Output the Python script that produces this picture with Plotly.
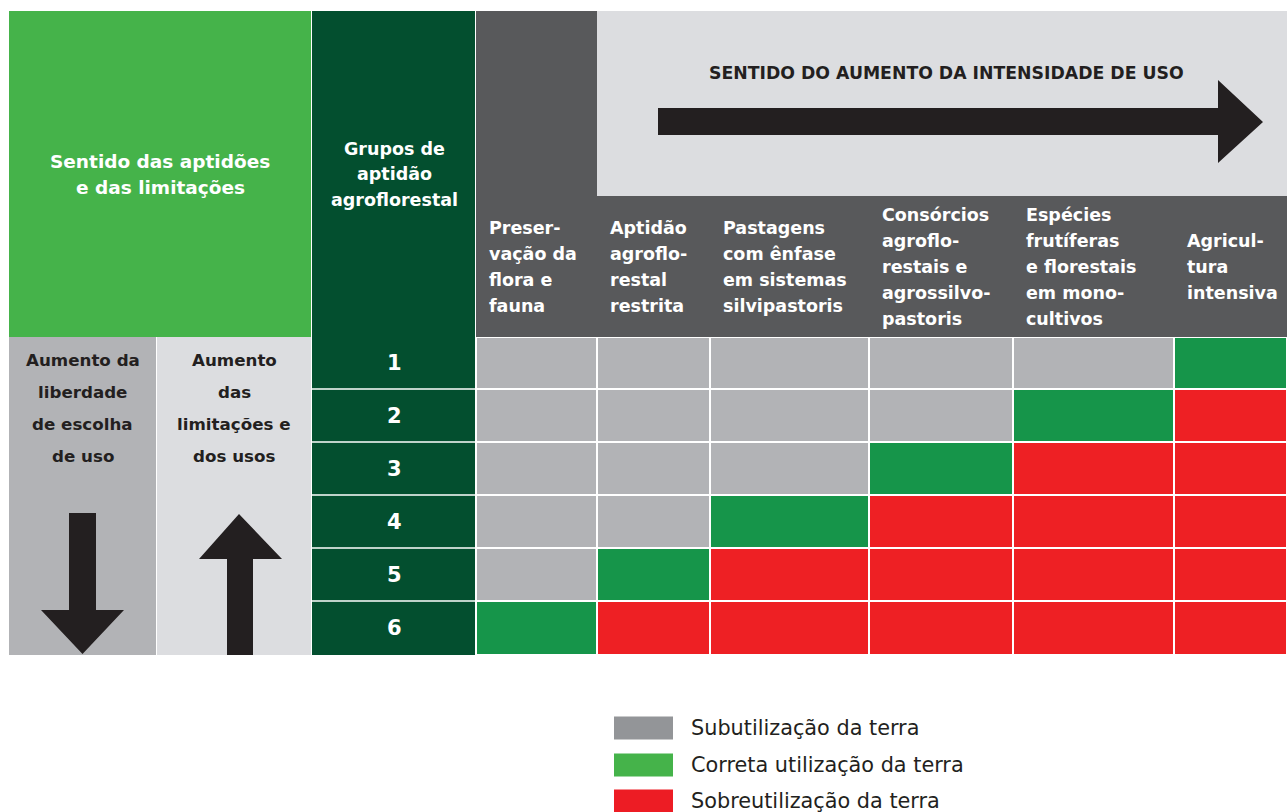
import plotly.graph_objects as go

# ---------------- data ----------------
use_labels = [
    "Preser-<br>vação da<br>flora e<br>fauna",
    "Aptidão<br>agroflo-<br>restal<br>restrita",
    "Pastagens<br>com ênfase<br>em sistemas<br>silvipastoris",
    "Consórcios<br>agroflo-<br>restais e<br>agrossilvo-<br>pastoris",
    "Espécies<br>frutíferas<br>e florestais<br>em mono-<br>cultivos",
    "Agricul-<br>tura<br>intensiva",
]
groups = ["1", "2", "3", "4", "5", "6"]
# 0 = subutilização, 1 = correta utilização, 2 = sobreutilização
status = [
    [0, 0, 0, 0, 0, 1],
    [0, 0, 0, 0, 1, 2],
    [0, 0, 0, 1, 2, 2],
    [0, 0, 1, 2, 2, 2],
    [0, 1, 2, 2, 2, 2],
    [1, 2, 2, 2, 2, 2],
]
legend_labels = ["Subutilização da terra", "Correta utilização da terra", "Sobreutilização da terra"]
top_title = "SENTIDO DO AUMENTO DA INTENSIDADE DE USO"
left_title = "Sentido das aptidões<br>e das limitações"
group_title = "Grupos de<br>aptidão<br>agroflorestal"
left_col1 = "Aumento da<br>liberdade<br>de escolha<br>de uso"
left_col2 = "Aumento<br>das<br>limitações e<br>dos usos"

# ---------------- styling / layout ----------------
W, H = 1287, 812
FONT = "DejaVu Sans"
DARK = "#231f20"
cell_colors = ["#b2b3b6", "#16954a", "#ee2024"]
legend_colors = ["#939598", "#45b34a", "#ed1c24"]
col_edges = [476, 597, 710, 869, 1013, 1174, 1287]
row_edges = [337, 389, 442, 495, 548, 601, 655]

fig = go.Figure()

cs = [[0, cell_colors[0]], [1/3, cell_colors[0]], [1/3, cell_colors[1]],
      [2/3, cell_colors[1]], [2/3, cell_colors[2]], [1, cell_colors[2]]]
fig.add_trace(go.Heatmap(z=status, x=col_edges, y=row_edges, colorscale=cs,
                         zmin=-0.5, zmax=2.5, showscale=False, xgap=2, ygap=2,
                         hoverinfo="skip"))

shapes = []
def rect(x0, y0, x1, y1, color, layer="below"):
    shapes.append(dict(type="rect", xref="x", yref="y", x0=x0, y0=y0, x1=x1, y1=y1,
                       fillcolor=color, line=dict(width=0), layer=layer))

# header blocks
rect(9, 11, 311, 337, "#45b34a")
rect(312, 11, 475, 655, "#034f2f")
rect(476, 11, 1287, 337, "#58595b")
rect(597, 11, 1287, 196, "#dcdde0")
rect(9, 337, 156, 655, "#b2b3b6")
rect(157, 337, 311, 655, "#dcdde0")
# row separators in the groups column
for yb in row_edges[1:-1]:
    shapes.append(dict(type="line", xref="x", yref="y", x0=312, x1=475, y0=yb, y1=yb,
                       line=dict(color="white", width=1.5), layer="below"))

# arrows
shapes.append(dict(type="path", xref="x", yref="y", layer="above",
                   path="M 658 108 L 1218 108 L 1218 80 L 1263 122 L 1218 163 L 1218 135 L 658 135 Z",
                   fillcolor=DARK, line=dict(width=0)))
shapes.append(dict(type="path", xref="x", yref="y", layer="above",
                   path="M 69 513 L 96 513 L 96 610 L 124 610 L 82.5 654 L 41 610 L 69 610 Z",
                   fillcolor=DARK, line=dict(width=0)))
shapes.append(dict(type="path", xref="x", yref="y", layer="above",
                   path="M 239 514 L 282 559 L 253 559 L 253 655 L 227 655 L 227 559 L 199 559 Z",
                   fillcolor=DARK, line=dict(width=0)))

annotations = []
def txt(x, y, s, size, color, bold=True, xanchor="center"):
    annotations.append(dict(x=x, y=y, xref="x", yref="y", text=s, showarrow=False,
                            xanchor=xanchor, yanchor="middle",
                            font=dict(family=FONT, size=size, color=color,
                                      weight="bold" if bold else "normal")))

def multiline(x, yc, label, spacing, size, color, bold=True, xanchor="center"):
    lines = label.split("<br>")
    n = len(lines)
    for i, ln in enumerate(lines):
        txt(x, yc + (i - (n - 1) / 2) * spacing, ln, size, color, bold, xanchor)

multiline(160, 174, left_title, 26, 18.5, "white")
multiline(394, 174, group_title, 25.5, 17.5, "white")
txt(946, 73, top_title, 17.3, DARK)

for j, lab in enumerate(use_labels):
    multiline(col_edges[j] + 11, 267, lab, 26, 17.5, "white", xanchor="left")

for i, g in enumerate(groups):
    txt(394, (row_edges[i] + row_edges[i + 1]) / 2, g, 21, "white")

multiline(82.5, 408, left_col1, 32, 16.7, DARK)
multiline(234, 408, left_col2, 32, 16.7, DARK)

# legend
leg_y = [728, 765, 801]
for lab, col, yc in zip(legend_labels, legend_colors, leg_y):
    rect(614, yc - 11.5, 673, yc + 11.5, col)
    txt(689, yc, lab, 20.8, DARK, bold=False, xanchor="left")

fig.update_layout(
    width=W, height=H, margin=dict(l=0, r=0, t=0, b=0, pad=0),
    paper_bgcolor="white", plot_bgcolor="white",
    xaxis=dict(range=[0, W], visible=False, fixedrange=True),
    yaxis=dict(range=[H, 0], visible=False, fixedrange=True),
    shapes=shapes, annotations=annotations, showlegend=False,
)

fig.write_html("out.html", config={"displayModeBar": False},
               post_script="document.body.style.margin='0px';document.body.style.overflow='hidden';")
